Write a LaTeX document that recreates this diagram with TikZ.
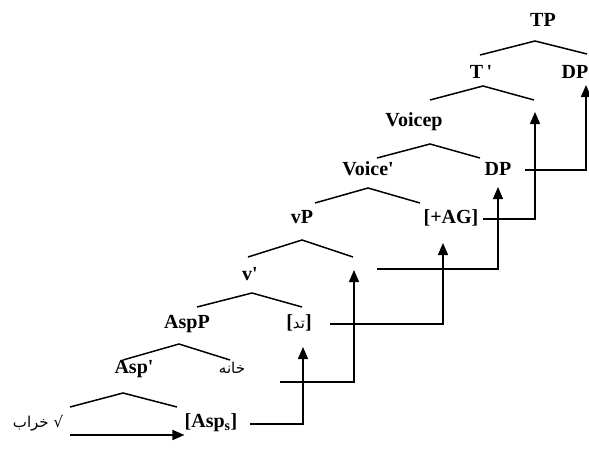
\documentclass[tikz,border=0pt]{standalone}
\usepackage{fontspec}
\setmainfont{Liberation Serif}
\newfontfamily\arabicfont[Script=Arabic]{DejaVu Sans}
\newfontfamily\symfont{DejaVu Sans}
\TeXXeTstate=1
\usetikzlibrary{arrows.meta}
\newcommand{\pr}{\textquotesingle}
\begin{document}
\begin{tikzpicture}[x=1pt,y=-1pt,
  lab/.style={inner sep=0pt,anchor=base,font=\fontsize{20}{24}\selectfont\bfseries},
  ar/.style={font=\arabicfont\fontsize{15}{18}\selectfont},
  br/.style={line width=1.5pt},
  mv/.style={line width=1.5pt,-{Triangle[length=12pt,width=10pt]}}]
\useasboundingbox (0,0) rectangle (589,455);
% labels
\node[lab] (tp) at (543,26) {TP};
\node[lab] (tbar) at (481,78) {T\,\pr};
\node[lab,anchor=base east] (dptop) at (588.5,78) {DP};
\node[lab] (voicep) at (414,126) {Voicep};
\node[lab] (voicebar) at (368,175) {Voice\pr};
\node[lab] (dpmid) at (498,175) {DP};
\node[lab] (vp) at (302,223) {vP};
\node[lab] (ag) at (451,223) {[+AG]};
\node[lab] (vbar) at (250,280) {v\pr};
\node[lab] (aspp) at (187,328) {AspP};
\node[lab] (td) at (299,328) {[{\arabicfont\fontsize{15}{18}\selectfont\mdseries\beginR تد\endR}]};
\node[lab] (aspbar) at (134,373) {Asp\pr};
\node[lab,ar] (khane) at (232,373) {\beginR خانه\endR};
\node[lab,ar] (root) at (38,427) {\beginR خراب\endR\ {\symfont√}};
\node[lab] (asps) at (211,427) {[Asp\textsubscript{s}]};
% branch points
\foreach \n/\ax/\ay/\lx/\ly/\rx/\ry in {
  a/535/41/480/55/587/54,
  b/483/86/430/100/534/100,
  c/430/144/377/158/480/158,
  d/368/188/315/203/420/203,
  e/302/240/248/257/353/257,
  f/252/293/197/307/302/307,
  g/179/344/123/360/230/360,
  h/123/393/70/407/177/407}{
  \coordinate (\n apex) at (\ax,\ay);
  \coordinate (\n L) at (\lx,\ly);
  \coordinate (\n R) at (\rx,\ry);
  \draw[br] (\n L) -- (\n apex) -- (\n R);
}
% movement paths
\coordinate (m1s) at (70,435);
\draw[mv] (m1s) -- (asps.west |- m1s);
\coordinate (m2s) at (250,424); \coordinate (m2t) at (303,347);
\draw[mv] (m2s) -| (m2t);
\coordinate (m3s) at (280,382); \coordinate (m3t) at (354,270);
\draw[mv] (m3s) -| (m3t);
\coordinate (m4s) at (330,324); \coordinate (m4t) at (443,243);
\draw[mv] (m4s) -| (m4t);
\coordinate (m5s) at (377,269); \coordinate (m5t) at (498,187);
\draw[mv] (m5s) -| (m5t);
\coordinate (m6s) at (483,219); \coordinate (m6t) at (535,112);
\draw[mv] (m6s) -| (m6t);
\coordinate (m7s) at (525,170); \coordinate (m7t) at (586,85);
\draw[mv] (m7s) -| (m7t);
\end{tikzpicture}
\end{document}
